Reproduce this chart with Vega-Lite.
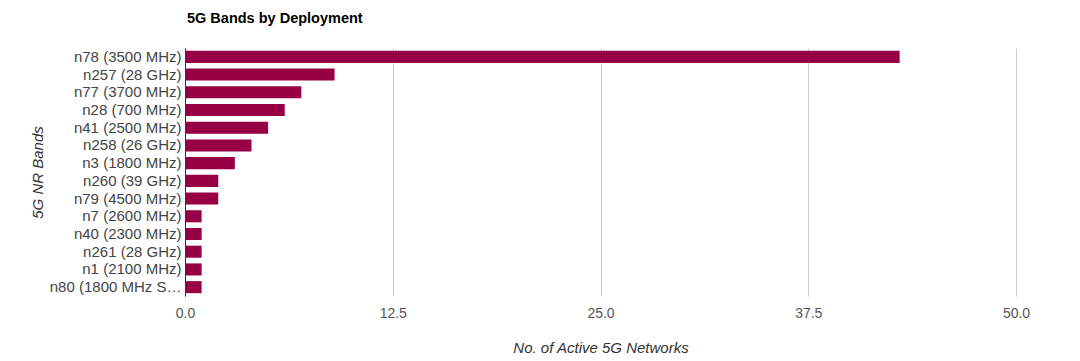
{
  "$schema": "https://vega.github.io/schema/vega-lite/v6.json",
  "width": 831,
  "height": 248,
  "autosize": "none",
  "padding": {"left": 185, "top": 48, "right": 64, "bottom": 65},
  "background": "white",
  "title": {
    "text": "5G Bands by Deployment",
    "anchor": "start",
    "frame": "group",
    "font": "Liberation Sans",
    "fontSize": 14.5,
    "fontWeight": "bold",
    "color": "#000000",
    "offset": 22,
    "dx": 2
  },
  "data": {
    "values": [
      {"band": "n78 (3500 MHz)", "networks": 43},
      {"band": "n257 (28 GHz)", "networks": 9},
      {"band": "n77 (3700 MHz)", "networks": 7},
      {"band": "n28 (700 MHz)", "networks": 6},
      {"band": "n41 (2500 MHz)", "networks": 5},
      {"band": "n258 (26 GHz)", "networks": 4},
      {"band": "n3 (1800 MHz)", "networks": 3},
      {"band": "n260 (39 GHz)", "networks": 2},
      {"band": "n79 (4500 MHz)", "networks": 2},
      {"band": "n7 (2600 MHz)", "networks": 1},
      {"band": "n40 (2300 MHz)", "networks": 1},
      {"band": "n261 (28 GHz)", "networks": 1},
      {"band": "n1 (2100 MHz)", "networks": 1},
      {"band": "n80 (1800 MHz SUL)", "networks": 1}
    ]
  },
  "mark": {"type": "bar", "color": "#970045"},
  "encoding": {
    "y": {
      "field": "band",
      "type": "nominal",
      "sort": null,
      "scale": {"paddingInner": 0.32, "paddingOuter": 0.16},
      "axis": {
        "title": "5G NR Bands",
        "titleFont": "Liberation Sans",
        "titleFontSize": 15,
        "titleFontStyle": "italic",
        "titleFontWeight": "normal",
        "titleColor": "#333333",
        "titleX": -140,
        "labelFont": "Liberation Sans",
        "labelFontSize": 15,
        "labelColor": "#444444",
        "labelLimit": 136,
        "labelPadding": 4,
        "ticks": false,
        "domainColor": "#333333",
        "grid": false
      }
    },
    "x": {
      "field": "networks",
      "type": "quantitative",
      "scale": {"domain": [0, 50], "nice": false},
      "axis": {
        "title": "No. of Active 5G Networks",
        "titleFont": "Liberation Sans",
        "titleFontSize": 15,
        "titleFontStyle": "italic",
        "titleFontWeight": "normal",
        "titleColor": "#333333",
        "titlePadding": 20,
        "values": [0, 12.5, 25, 37.5, 50],
        "format": ".1f",
        "labelFont": "Liberation Sans",
        "labelFontSize": 14,
        "labelColor": "#555555",
        "labelPadding": 10,
        "labelFlush": false,
        "ticks": false,
        "domain": false,
        "grid": true,
        "gridColor": "#cccccc"
      }
    }
  },
  "config": {"view": {"stroke": null}}
}
